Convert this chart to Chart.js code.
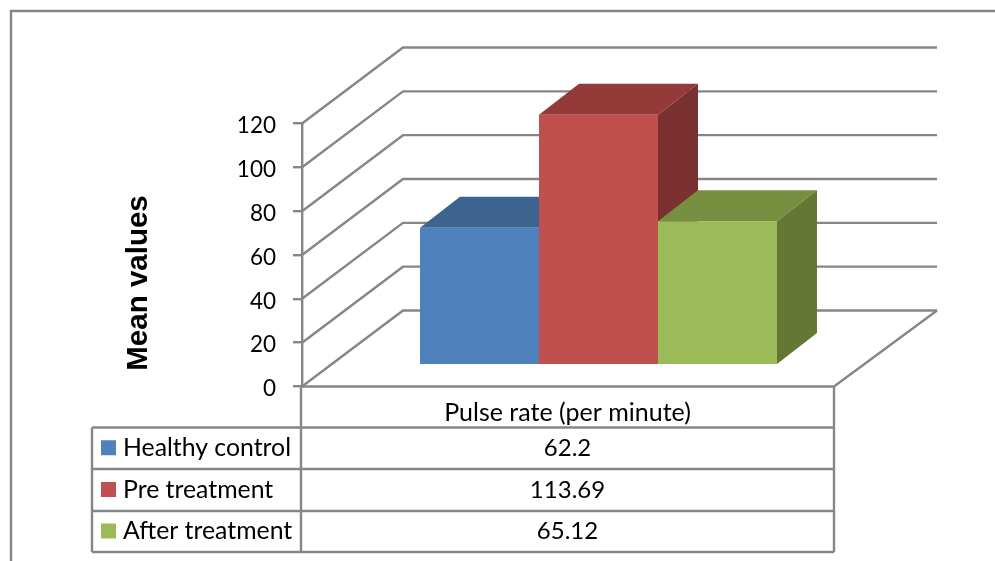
<!DOCTYPE html>
<html>
<head>
<meta charset="utf-8">
<title>Pulse rate</title>
<script src="https://cdn.jsdelivr.net/npm/chart.js@4"></script>
<style>
    html, body { margin: 0; padding: 0; background: #fff; }
    #wrap { width: 995px; height: 561px; }
</style>
</head>
<body>
<div id="wrap"><canvas id="chart"></canvas></div>
<script>
const categories = ['Pulse rate (per minute)'];
const seriesNames = ['Healthy control', 'Pre treatment', 'After treatment'];
const healthyControl = [62.2];
const preTreatment = [113.69];
const afterTreatment = [65.12];
const yTicks = [0, 20, 40, 60, 80, 100, 120];
const axisTitle = 'Mean values';

const LINE = '#868686';
const FRONT = ['#4f81bd', '#c0504d', '#9bbb59'];
const TOP = ['#3d648f', '#943b3a', '#768f40'];
const SIDE = ['#335478', '#7b3130', '#647735'];
const FONT = 'Lato, sans-serif';
const LINE_W = 2.4;

// plot box, in page pixels
const AXIS_LEFT = 302, AXIS_TOP = 123.5, AXIS_BOTTOM = 386.5;
const WALL_DX = 101, WALL_DY = 76;    // front plane -> back wall
const BAR_DX = 40, BAR_DY = 31;       // bar depth
const BAR_LIFT = 22.5;                // bars stand back from the front edge
const FLOOR_RIGHT = 834;
const unit = (AXIS_BOTTOM - AXIS_TOP) / 120;

// data table rows
const TABLE_LEFT = 92, TABLE_DIV = 301;
const ROWS = [386.5, 427.5, 469, 511, 552];

function line(ctx, pts) {
    ctx.beginPath();
    pts.forEach((p, i) => i ? ctx.lineTo(p[0], p[1]) : ctx.moveTo(p[0], p[1]));
    ctx.stroke();
}

function poly(ctx, pts, color) {
    ctx.beginPath();
    pts.forEach((p, i) => i ? ctx.lineTo(p[0], p[1]) : ctx.moveTo(p[0], p[1]));
    ctx.closePath();
    ctx.fillStyle = color;
    ctx.fill();
}

// walls, floor and the top and side faces of the bars
const box3d = {
    id: 'box3d',
    beforeDatasetsDraw(chart) {
        const ctx = chart.ctx;
        const y = chart.scales.y;
        ctx.save();
        ctx.strokeStyle = LINE;
        ctx.lineWidth = LINE_W;

        // outer frame, the right side is cut off in the original
        line(ctx, [[11, 561], [11, 11], [995, 11]]);

        for (const t of yTicks) {
            const py = y.getPixelForValue(t);
            line(ctx, [[AXIS_LEFT, py], [AXIS_LEFT + WALL_DX, py - WALL_DY], [937, py - WALL_DY]]);
        }
        const by = y.getPixelForValue(0);
        line(ctx, [[AXIS_LEFT, by], [FLOOR_RIGHT, by], [937, by - WALL_DY]]);

        chart.data.datasets.forEach((ds, i) => {
            const bar = chart.getDatasetMeta(i).data[0];
            const { x, y: top, base, width } = bar.getProps(['x', 'y', 'base', 'width'], true);
            const l = x - width / 2, r = x + width / 2;
            poly(ctx, [[l, top], [r, top], [r + BAR_DX, top - BAR_DY], [l + BAR_DX, top - BAR_DY]], TOP[i]);
            poly(ctx, [[r, top], [r + BAR_DX, top - BAR_DY], [r + BAR_DX, base - BAR_DY], [r, base]], SIDE[i]);
        });
        ctx.restore();
    },
    afterDraw(chart) {
        const ctx = chart.ctx;
        ctx.save();
        ctx.strokeStyle = LINE;
        ctx.lineWidth = LINE_W;

        // data table
        line(ctx, [[TABLE_DIV, ROWS[0]], [TABLE_DIV, ROWS[4]]]);
        line(ctx, [[FLOOR_RIGHT, ROWS[0]], [FLOOR_RIGHT, ROWS[4]]]);
        line(ctx, [[TABLE_LEFT, ROWS[1]], [TABLE_LEFT, ROWS[4]]]);
        for (let i = 1; i < ROWS.length; i++) {
            line(ctx, [[TABLE_LEFT, ROWS[i]], [FLOOR_RIGHT, ROWS[i]]]);
        }

        const midX = (TABLE_DIV + FLOOR_RIGHT) / 2;
        ctx.fillStyle = '#000';
        ctx.textBaseline = 'middle';
        ctx.font = '25px ' + FONT;
        ctx.textAlign = 'center';
        ctx.fillText(categories[0], midX, 413);
        chart.data.datasets.forEach((ds, i) => {
            const cy = (ROWS[i + 1] + ROWS[i + 2]) / 2;
            ctx.textAlign = 'center';
            ctx.fillStyle = '#000';
            ctx.font = '24px ' + FONT;
            ctx.fillText(String(ds.data[0]), midX, cy);
            ctx.textAlign = 'left';
            ctx.font = '24.8px ' + FONT;
            ctx.fillText(seriesNames[i], 123, cy);
            ctx.fillStyle = FRONT[i];
            ctx.fillRect(101, cy - 8, 15, 15);
        });

        // axis title, sits lower than the axis centre
        ctx.translate(147, 283);
        ctx.rotate(-Math.PI / 2);
        ctx.fillStyle = '#000';
        ctx.textAlign = 'center';
        ctx.textBaseline = 'alphabetic';
        ctx.font = 'bold 29.5px "Liberation Sans", Arial, sans-serif';
        ctx.fillText(axisTitle, 0, 0);
        ctx.restore();
    },
};

new Chart(document.getElementById('chart'), {
    type: 'bar',
    data: {
        labels: categories,
        datasets: [healthyControl, preTreatment, afterTreatment].map((vals, i) => ({
            label: seriesNames[i],
            data: vals,
            backgroundColor: FRONT[i],
            yAxisID: 'yBar',
            categoryPercentage: 0.602,
            barPercentage: 1,
            clip: false,
        })),
    },
    options: {
        responsive: true,
        maintainAspectRatio: false,
        animation: false,
        layout: { padding: { left: 120, top: AXIS_TOP, right: 100, bottom: 561 - AXIS_BOTTOM } },
        plugins: {
            legend: { display: false },
            title: { display: false },
            tooltip: { enabled: false },
        },
        scales: {
            x: { display: false },
            y: {
                position: 'left',
                min: 0,
                max: 120,
                afterBuildTicks: (s) => { s.ticks = yTicks.map(v => ({ value: v })); },
                afterFit: (s) => { s.width = AXIS_LEFT - 120; },
                ticks: {
                    color: '#000',
                    padding: 17,
                    labelOffset: 2.5,
                    font: { family: FONT, size: 22.5 },
                },
                grid: { drawOnChartArea: false, color: LINE, lineWidth: LINE_W, tickLength: 9 },
                border: { color: LINE, width: LINE_W },
            },
            // same pixels per unit as y, with the zero moved back onto the floor
            yBar: {
                display: false,
                min: -BAR_LIFT / unit,
                max: 120 - BAR_LIFT / unit,
            },
        },
    },
    plugins: [box3d],
});
</script>
</body>
</html>
